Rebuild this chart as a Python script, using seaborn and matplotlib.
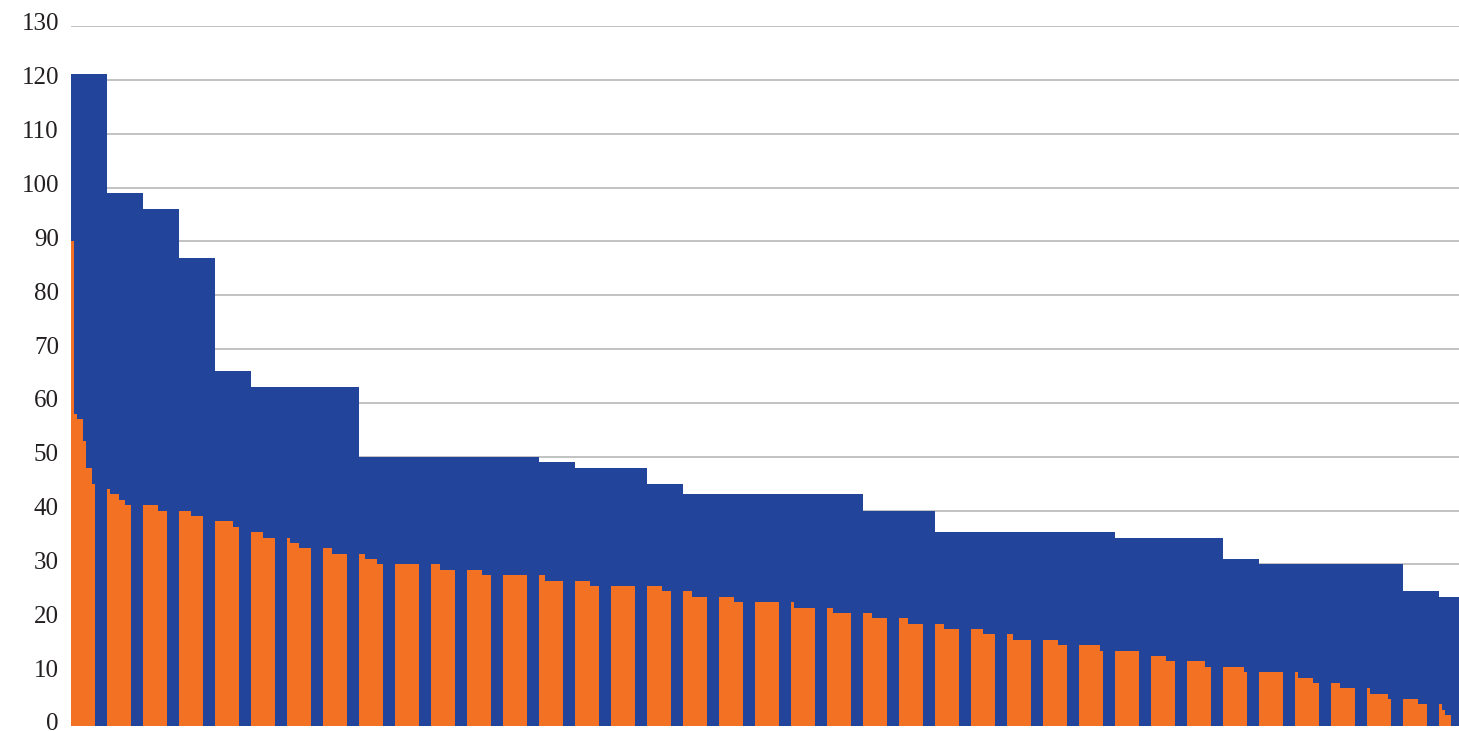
import numpy as np
import pandas as pd
import matplotlib
matplotlib.use("Agg")
import matplotlib.pyplot as plt
import matplotlib.transforms as mtransforms
import seaborn as sns

# wide (blue) series, one value per slot
blue_values = [121, 99, 96, 87, 66, 63, 63, 63, 50, 50, 50, 50, 50, 49, 48, 48, 45,
               43, 43, 43, 43, 43, 40, 40, 36, 36, 36, 36, 36, 35, 35, 35, 31,
               30, 30, 30, 30, 25, 24]

# narrow (orange) series, eight sub-bars per slot
orange_values = [
    [90, 58, 57, 57, 53, 48, 48, 45],
    [44, 43, 43, 43, 42, 42, 41, 41],
    [41, 41, 41, 41, 41, 40, 40, 40],
    [40, 40, 40, 40, 39, 39, 39, 39],
    [38, 38, 38, 38, 38, 38, 37, 37],
    [36, 36, 36, 36, 35, 35, 35, 35],
    [35, 34, 34, 34, 33, 33, 33, 33],
    [33, 33, 33, 32, 32, 32, 32, 32],
    [32, 32, 31, 31, 31, 31, 30, 30],
    [30, 30, 30, 30, 30, 30, 30, 30],
    [30, 30, 30, 29, 29, 29, 29, 29],
    [29, 29, 29, 29, 29, 28, 28, 28],
    [28, 28, 28, 28, 28, 28, 28, 28],
    [28, 28, 27, 27, 27, 27, 27, 27],
    [27, 27, 27, 27, 27, 26, 26, 26],
    [26, 26, 26, 26, 26, 26, 26, 26],
    [26, 26, 26, 26, 26, 25, 25, 25],
    [25, 25, 25, 24, 24, 24, 24, 24],
    [24, 24, 24, 24, 24, 23, 23, 23],
    [23, 23, 23, 23, 23, 23, 23, 23],
    [23, 22, 22, 22, 22, 22, 22, 22],
    [22, 22, 21, 21, 21, 21, 21, 21],
    [21, 21, 21, 20, 20, 20, 20, 20],
    [20, 20, 20, 19, 19, 19, 19, 19],
    [19, 19, 19, 18, 18, 18, 18, 18],
    [18, 18, 18, 18, 17, 17, 17, 17],
    [17, 17, 16, 16, 16, 16, 16, 16],
    [16, 16, 16, 16, 16, 15, 15, 15],
    [15, 15, 15, 15, 15, 15, 15, 14],
    [14, 14, 14, 14, 14, 14, 14, 14],
    [13, 13, 13, 13, 13, 12, 12, 12],
    [12, 12, 12, 12, 12, 12, 11, 11],
    [11, 11, 11, 11, 11, 11, 11, 10],
    [10, 10, 10, 10, 10, 10, 10, 10],
    [10, 9, 9, 9, 9, 9, 8, 8],
    [8, 8, 8, 7, 7, 7, 7, 7],
    [7, 6, 6, 6, 6, 6, 6, 5],
    [5, 5, 5, 5, 5, 4, 4, 4],
    [4, 3, 2, 2, 0, 0, 0, 0],
]

y_ticks = list(range(0, 131, 10))

BLUE = "#22459b"
ORANGE = "#f27122"
GRID = "#bdbdbd"

n_slots = len(blue_values)
n_sub = len(orange_values[0])
group_width = 2 / 3  # orange cluster width relative to slot

df_blue = pd.DataFrame({"slot": np.arange(n_slots) + (1 - group_width) / 2,
                        "value": blue_values})
rows = []
for i, vals in enumerate(orange_values):
    for j, v in enumerate(vals):
        rows.append({"slot": i, "sub": j, "value": v})
df_orange = pd.DataFrame(rows)

sns.set_style("white")
plt.rcParams['font.family'] = ['Liberation Serif', 'DejaVu Serif']

fig = plt.figure(figsize=(14.59, 7.31), dpi=100)
ax = fig.add_axes([71 / 1459, 5 / 731, 1388 / 1459, 700 / 731])

sns.barplot(data=df_blue, x="slot", y="value", native_scale=True, width=1,
            color=BLUE, linewidth=0, errorbar=None, saturation=1, ax=ax)
sns.barplot(data=df_orange, x="slot", y="value", hue="sub", native_scale=True,
            width=group_width, palette=[ORANGE] * n_sub, linewidth=0,
            errorbar=None, saturation=1, legend=False, dodge=True, ax=ax)

left = -group_width / 2
ax.set_ylim(0, 130)
ax.set_xlim(left, left + 1388 / 36)
ax.set_yticks(y_ticks)
ax.set_yticklabels([str(t) for t in y_ticks])
ax.set_xticks([])
ax.set_xlabel("")
ax.set_ylabel("")
ax.set_axisbelow(True)
ax.yaxis.grid(True, color=GRID, linewidth=1.3)
ax.tick_params(axis="y", length=2.2, color=GRID, width=1.3, pad=6.5,
               labelsize=18, labelcolor="#231f20")
for s in ax.spines.values():
    s.set_visible(False)

# labels sit a little above their gridlines
shift = mtransforms.ScaledTranslation(0, 4 / 100, fig.dpi_scale_trans)
for lbl in ax.get_yticklabels():
    lbl.set_transform(lbl.get_transform() + shift)

fig.savefig("out.png", dpi=100)
